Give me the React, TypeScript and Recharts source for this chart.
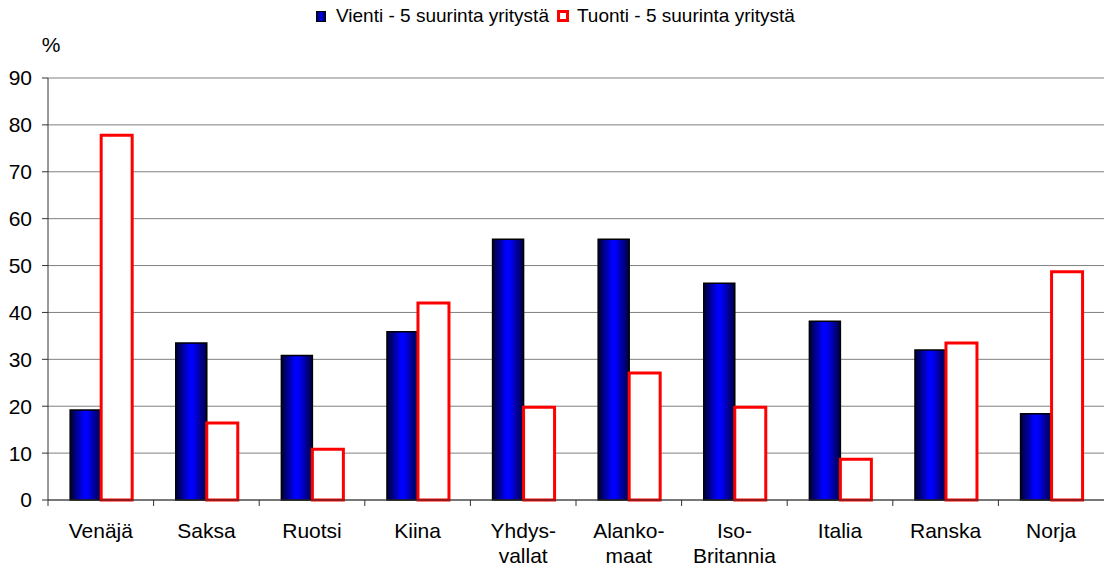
import React from 'react';
import { BarChart, Bar, XAxis, YAxis, CartesianGrid, Label } from 'recharts';

const categories = ['Venäjä', 'Saksa', 'Ruotsi', 'Kiina', 'Yhdys-\nvallat', 'Alanko-\nmaat', 'Iso-\nBritannia', 'Italia', 'Ranska', 'Norja'];
const vienti = [19.2, 33.5, 30.8, 35.9, 55.6, 55.6, 46.2, 38.1, 32.0, 18.4];
const tuonti = [77.8, 16.4, 10.8, 42.0, 19.8, 27.1, 19.8, 8.7, 33.5, 48.7];
const yTicks = [0, 10, 20, 30, 40, 50, 60, 70, 80, 90];
const seriesNames = ['Vienti - 5 suurinta yritystä', 'Tuonti - 5 suurinta yritystä'];
const unitLabel = '%';

const data = categories.map((c, i) => ({ name: c, vienti: vienti[i], tuonti: tuonti[i] }));

const FONT = '"Liberation Sans", Arial, sans-serif';

const CategoryTick = (props: any) => {
  const { x, y, payload, width, visibleTicksCount } = props;
  const half = payload && payload.offset ? payload.offset : width / visibleTicksCount / 2;
  const lines = String(payload.value).split('\n');
  return (
    <g>
      <line x1={x - half} x2={x - half} y1={y - 8} y2={y - 2} stroke="#333" strokeWidth={1} />
      <text x={x} y={y} textAnchor="middle" fontSize={21} fill="#000" fontFamily={FONT}>
        {lines.map((l, i) => (
          <tspan key={i} x={x} dy={i === 0 ? 30 : 25}>{l}</tspan>
        ))}
      </text>
    </g>
  );
};

const UnitLabel = (props: any) => {
  const vb = props.viewBox || { x: 0, y: 0, width: 0 };
  return (
    <text x={vb.x + vb.width + 3} y={vb.y - 26} textAnchor="middle" fontSize={21} fill="#000" fontFamily={FONT}>
      {unitLabel}
    </text>
  );
};

const LegendBox = () => (
  <div style={{ position: 'absolute', left: 316, top: 5, display: 'flex', alignItems: 'center', fontSize: 19, fontFamily: FONT, color: '#000', whiteSpace: 'nowrap' }}>
    <span style={{ display: 'inline-block', width: 8, height: 9, background: 'linear-gradient(90deg,#000044,#0000ff,#000044)', border: '1.5px solid #000', marginRight: 10 }} />
    <span>{seriesNames[0]}</span>
    <span style={{ display: 'inline-block', width: 6, height: 6, background: '#fff', border: '3px solid #ff0000', marginLeft: 8, marginRight: 8 }} />
    <span>{seriesNames[1]}</span>
  </div>
);

export default function App() {
  return (
    <div style={{ position: 'absolute', left: 0, top: 0, width: 1104, height: 572, fontFamily: FONT, background: '#fff' }}>
      <LegendBox />
      <BarChart
        width={1104}
        height={572}
        data={data}
        margin={{ top: 78, right: 0, bottom: 0, left: 0 }}
        barCategoryGap="21%"
        barGap={0}
      >
        <defs>
          <linearGradient id="blueGrad" x1="0" y1="0" x2="1" y2="0">
            <stop offset="0%" stopColor="#000033" />
            <stop offset="45%" stopColor="#0000ff" />
            <stop offset="55%" stopColor="#0000ff" />
            <stop offset="100%" stopColor="#000040" />
          </linearGradient>
        </defs>
        <CartesianGrid vertical={false} stroke="#808080" strokeWidth={1} />
        <XAxis
          dataKey="name"
          height={72}
          interval={0}
          tickLine={false}
          tickSize={6}
          tickMargin={2}
          stroke="#333"
          tick={<CategoryTick />}
        />
        <YAxis
          domain={[0, 90]}
          ticks={yTicks}
          interval={0}
          width={48}
          tickSize={6}
          tickMargin={10}
          stroke="#333"
          tick={{ fontSize: 21, fill: '#000', fontFamily: FONT }}
        >
          <Label content={<UnitLabel />} />
        </YAxis>
        <Bar dataKey="vienti" name={seriesNames[0]} fill="url(#blueGrad)" stroke="#000" strokeWidth={1.5} isAnimationActive={false} />
        <Bar dataKey="tuonti" name={seriesNames[1]} fill="#fff" stroke="#ff0000" strokeWidth={3} isAnimationActive={false} />
      </BarChart>
    </div>
  );
}
